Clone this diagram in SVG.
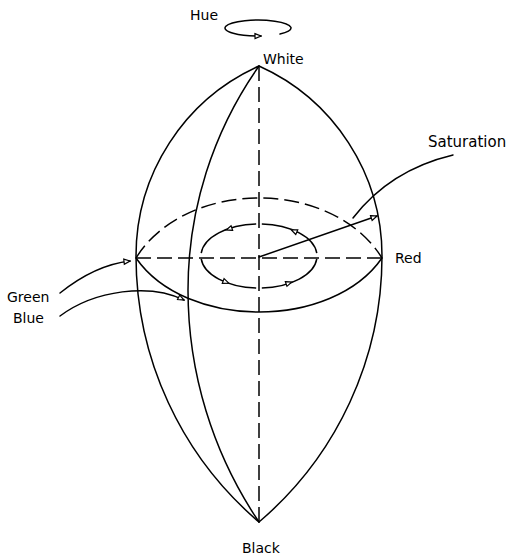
<svg xmlns="http://www.w3.org/2000/svg" width="508" height="558" viewBox="0 0 508 558">
<style>
.ln{fill:none;stroke:#000;stroke-width:1.5;stroke-linecap:round}
.dsh{fill:none;stroke:#000;stroke-width:1.5;stroke-dasharray:15 6}
.lbl{font-family:"DejaVu Sans","Liberation Sans",sans-serif;font-size:14px;fill:#000}
.tri{fill:#fff;stroke:#000;stroke-width:1.2}
</style>
<defs>
<marker id="ah" viewBox="0 0 8 8" refX="7" refY="4" markerWidth="8" markerHeight="8" markerUnits="userSpaceOnUse" orient="auto">
<path d="M1,1.5 L7,4 L1,6.5 Z" fill="#fff" stroke="#000" stroke-width="1.2"/>
</marker>
<path id="t" d="M-3,-2.5 L3,0 L-3,2.5 Z"/>
</defs>
<rect width="508" height="558" fill="#fff"/>
<g id="solid">
<path class="ln" d="M259,66 A208.2,208.2 0 0 0 136,256 A349.1,349.1 0 0 0 259,522"/>
<path class="ln" d="M259,66 A208.2,208.2 0 0 1 382,256 A349.1,349.1 0 0 1 259,522"/>
<path class="ln" d="M259,66 A388.8,388.8 0 0 0 188,290 A414.5,414.5 0 0 0 259,522"/>
<path class="ln" d="M136,258 C186,330 332,330 382,258"/>
<path class="dsh" d="M136,258 C186,178 332,178 382,258"/>
<path class="dsh" d="M136,258 H382"/>
<path class="dsh" d="M259,66 V522"/>
</g>
<g id="hue-cycle">
<ellipse cx="259" cy="256" rx="58" ry="32" fill="none" stroke="#000" stroke-width="1.5" pathLength="100" stroke-dasharray="23 2" stroke-dashoffset="-1"/>
<use href="#t" class="tri" transform="translate(229,229) rotate(161.6)"/>
<use href="#t" class="tri" transform="translate(294,231) rotate(203)"/>
<use href="#t" class="tri" transform="translate(226,282) rotate(21)"/>
<use href="#t" class="tri" transform="translate(289,283) rotate(-18.7)"/>
</g>
<g id="connectors">
<path class="ln" d="M259,257 L377,216" marker-end="url(#ah)"/>
<path class="ln" d="M453,155 Q390,170 353,218"/>
<path class="ln" d="M60,293 Q95,265 130,261" marker-end="url(#ah)"/>
<path class="ln" d="M60,316 C95,290 150,283 184,300" marker-end="url(#ah)"/>
<path class="ln" d="M280,34 A33,8 0 1 0 261,36" marker-end="url(#ah)"/>
</g>
<g id="hue"><text class="lbl" x="190" y="20">Hue</text></g>
<g id="white"><text class="lbl" x="263" y="64">White</text></g>
<g id="saturation"><text class="lbl" x="428" y="147" style="font-size:15px">Saturation</text></g>
<g id="red"><text class="lbl" x="395" y="263">Red</text></g>
<g id="green"><text class="lbl" x="7" y="302">Green</text></g>
<g id="blue"><text class="lbl" x="13" y="323">Blue</text></g>
<g id="black"><text class="lbl" x="242" y="553">Black</text></g>
</svg>
